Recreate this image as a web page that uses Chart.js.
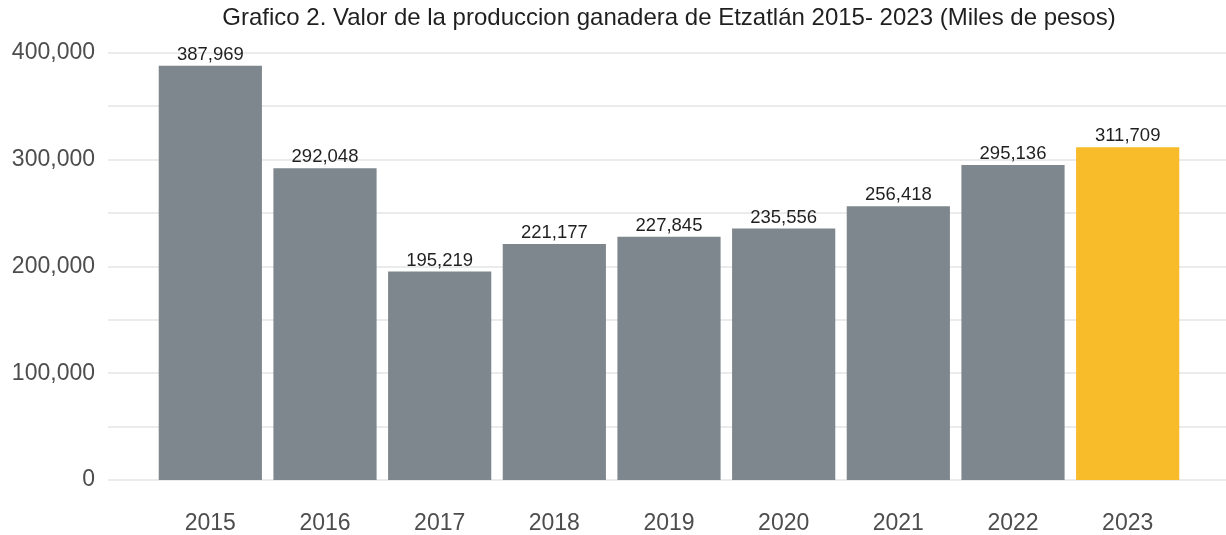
<!DOCTYPE html>
<html>
<head>
<meta charset="utf-8">
<script src="https://cdn.jsdelivr.net/npm/chart.js@4.4.0/dist/chart.umd.min.js"></script>
<style>
  html, body { margin: 0; padding: 0; background: #ffffff; }
  #wrap { width: 1226px; height: 535px; }
</style>
</head>
<body>
<div id="wrap"><canvas id="myChart"></canvas></div>
<script>
var years = ["2015", "2016", "2017", "2018", "2019", "2020", "2021", "2022", "2023"];
var valores = [387969, 292048, 195219, 221177, 227845, 235556, 256418, 295136, 311709];
var yTicks = [0, 100000, 200000, 300000, 400000];
var titulo = "Grafico 2. Valor de la produccion ganadera de Etzatlán 2015- 2023 (Miles de pesos)";

var gris = "#7e878d";
var amarillo = "#f8bb2a";
var colores = [];
for (var i = 0; i < years.length; i++) {
	colores.push(i == years.length - 1 ? amarillo : gris);
}

function fmt(v) {
	return Number(v).toLocaleString("en-US");
}

// grid across the whole width, every 50,000
var gridFull = {
	id: "gridFull",
	beforeDatasetsDraw: function(chart) {
		var ctx = chart.ctx;
		var y = chart.scales.y;
		ctx.save();
		ctx.strokeStyle = "#ebebeb";
		ctx.lineWidth = 2;
		for (var v = 0; v <= 400000; v += 50000) {
			var py = Math.round(y.getPixelForValue(v));
			ctx.beginPath();
			ctx.moveTo(108, py);
			ctx.lineTo(chart.width, py);
			ctx.stroke();
		}
		ctx.restore();
	}
};

// value labels on top of bars + title centered on plot
var etiquetas = {
	id: "etiquetas",
	afterDatasetsDraw: function(chart) {
		var ctx = chart.ctx;
		var meta = chart.getDatasetMeta(0);
		ctx.save();
		ctx.fillStyle = "#1f1f1f";
		ctx.font = "18.5px 'Liberation Sans', Arial, sans-serif";
		ctx.textAlign = "center";
		ctx.textBaseline = "alphabetic";
		meta.data.forEach(function(bar, i) {
			ctx.fillText(fmt(valores[i]), bar.x, bar.y - 6);
		});
		var a = chart.chartArea;
		ctx.font = "24px 'Liberation Sans', Arial, sans-serif";
		ctx.textBaseline = "middle";
		ctx.fillText(titulo, (a.left + a.right) / 2, 18);
		ctx.restore();
	}
};

var ctx = document.getElementById("myChart");

var myChart = new Chart(ctx, {
	type: "bar",
	data: {
		labels: years,
		datasets: [
			{
				data: valores,
				backgroundColor: colores,
				borderWidth: 0,
				barPercentage: 0.9,
				categoryPercentage: 1.0
			}
		]
	},
	options: {
		responsive: true,
		maintainAspectRatio: false,
		animation: false,
		layout: {
			padding: { top: 53, left: 10, right: 41, bottom: 0 }
		},
		plugins: {
			legend: { display: false },
			tooltip: { enabled: false }
		},
		scales: {
			x: {
				grid: { display: false, drawTicks: false },
				border: { display: false },
				afterFit: function(axis) { axis.height = 55; },
				ticks: {
					color: "#4d4d4d",
					padding: 30,
					font: { family: "'Liberation Sans', Arial, sans-serif", size: 23 }
				}
			},
			y: {
				min: 0,
				max: 400000,
				afterBuildTicks: function(axis) {
					axis.ticks = yTicks.map(function(v) { return { value: v }; });
				},
				afterFit: function(axis) {
					axis.width = 143;
					axis.paddingTop = 0;
					axis.paddingBottom = 0;
				},
				grid: { display: false, drawTicks: false },
				border: { display: false },
				ticks: {
					color: "#4d4d4d",
					padding: 58,
					font: { family: "'Liberation Sans', Arial, sans-serif", size: 23 },
					callback: function(v) { return fmt(v); }
				}
			}
		}
	},
	plugins: [gridFull, etiquetas]
});
</script>
</body>
</html>
